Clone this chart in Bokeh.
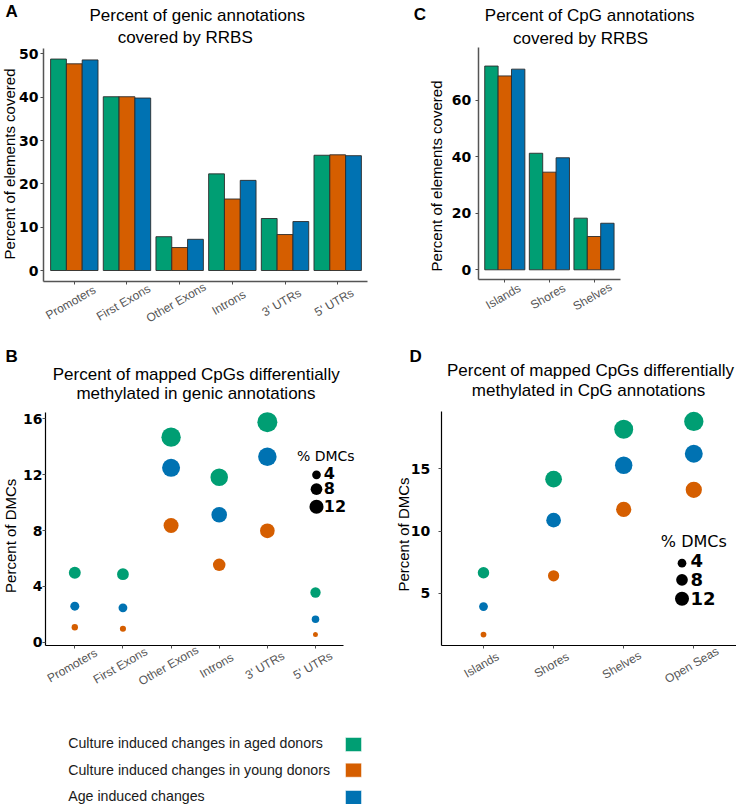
import math
from bokeh.plotting import figure
from bokeh.models import Range1d, FixedTicker, Label
from bokeh.layouts import column, row
from bokeh.embed import file_html
from bokeh.resources import INLINE

# ---------------- data ----------------
series = ["Culture induced changes in aged donors",
          "Culture induced changes in young donors",
          "Age induced changes"]
colors = ["#009E73", "#D55E00", "#0072B2"]

genic_cats = ["Promoters", "First Exons", "Other Exons", "Introns", "3' UTRs", "5' UTRs"]
cpg_cov_cats = ["Islands", "Shores", "Shelves"]
cpg_dmc_cats = ["Islands", "Shores", "Shelves", "Open Seas"]

genic_cov_aged = [48.8, 40.1, 7.8, 22.3, 12.0, 26.6]
genic_cov_young = [47.7, 40.1, 5.3, 16.5, 8.3, 26.7]
genic_cov_age = [48.6, 39.8, 7.2, 20.8, 11.3, 26.5]

cpg_cov_aged = [72.2, 41.3, 18.3]
cpg_cov_young = [68.7, 34.6, 11.8]
cpg_cov_age = [71.1, 39.7, 16.5]

genic_dmc_aged = [4.97, 4.87, 14.69, 11.82, 15.76, 3.56]
genic_dmc_young = [1.07, 0.96, 8.36, 5.54, 7.98, 0.55]
genic_dmc_age = [2.58, 2.46, 12.49, 9.13, 13.28, 1.65]

cpg_dmc_aged = [6.65, 14.18, 18.20, 18.82]
cpg_dmc_young = [1.68, 6.40, 11.74, 13.32]
cpg_dmc_age = [3.93, 10.88, 15.30, 16.22]

size_legend_vals = [4, 8, 12]

genic_yticks = [0, 10, 20, 30, 40, 50]
cpg_cov_yticks = [0, 20, 40, 60]
genic_dmc_yticks = [0, 4, 8, 12, 16]
cpg_dmc_yticks = [5, 10, 15]

SANS = "Liberation Sans"
DJ = "DejaVu Sans"
BASE_K = 0.35  # correction for where the alphabetic baseline lands
TICK_ANGLE = math.radians(30)
SPLIT = 390    # x where the left and right columns meet


class Panel:
    """A figure whose frame fills its canvas; axes are pinned inside with fixed_location."""

    def __init__(self, x0, y0, w, h, cx1, cdx, zero_px, px_per_unit, yticks, ncat,
                 ax_left, ax_right, ax_top, ax_bottom, axis_color, axis_width, standoff):
        self.cx1, self.cdx, self.zero_px, self.ppu = cx1, cdx, zero_px, px_per_unit
        xr = (self.X(x0), self.X(x0 + w))
        yr = (self.Y(y0 + h), self.Y(y0))
        p = figure(width=w, height=h, x_range=Range1d(*xr), y_range=Range1d(*yr),
                   min_border=0, min_border_left=0, min_border_right=0,
                   min_border_top=0, min_border_bottom=0,
                   output_backend="svg", toolbar_location=None, title=None)
        p.outline_line_color = None
        p.xgrid.visible = False
        p.ygrid.visible = False
        p.background_fill_color = "white"
        p.border_fill_color = "white"
        xa, ya = p.xaxis[0], p.yaxis[0]
        ya.ticker = FixedTicker(ticks=yticks)
        xa.ticker = FixedTicker(ticks=list(range(1, ncat + 1)))
        xa.major_label_text_color = None
        ya.fixed_location = self.X(ax_left)
        ya.bounds = (self.Y(ax_bottom), self.Y(ax_top))
        xa.fixed_location = self.Y(ax_bottom)
        xa.bounds = (self.X(ax_left), self.X(ax_right))
        for ax in (xa, ya):
            ax.axis_line_color = axis_color
            ax.axis_line_width = axis_width
            ax.major_tick_line_color = "#4d4d4d"
            ax.major_tick_out = 3
            ax.major_tick_in = 0
            ax.minor_tick_out = 0
            ax.minor_tick_in = 0
        ya.major_label_text_font = DJ
        ya.major_label_text_font_style = "bold"
        ya.major_label_text_font_size = "14px"
        ya.major_label_text_color = "black"
        ya.major_label_standoff = standoff
        self.p = p

    def X(self, px):
        return 1 + (px - self.cx1) / self.cdx

    def Y(self, py):
        return (self.zero_px - py) / self.ppu

    def label(self, px, py, text, size, font=SANS, style="normal", align="left",
              baseline="alphabetic", angle=0.0, color="black", x_data=None, x_offset=0):
        if baseline == "alphabetic":
            if angle == 0:
                py -= BASE_K * size
            else:
                px -= BASE_K * size
        x = self.X(px) if x_data is None else x_data
        self.p.add_layout(Label(x=x, y=self.Y(py), text=text, text_font=font,
                                text_font_size=f"{size}px", text_font_style=style,
                                text_align=align, text_baseline=baseline, angle=angle,
                                text_color=color, x_offset=x_offset))

    def xlabels(self, cats, py, dx):
        for i, c in enumerate(cats):
            self.label(0, py, c, 12, align="center", baseline="middle",
                       angle=TICK_ANGLE, color="#555555", x_data=i + 1, x_offset=dx)


def bars(panel, vals_list):
    offs = [-0.3, 0.0, 0.3]
    for vals, col, off in zip(vals_list, colors, offs):
        panel.p.vbar(x=[i + 1 + off for i in range(len(vals))], top=vals, bottom=0,
                     width=0.3, fill_color=col, line_color="#2b2b2b", line_width=0.9)


def dots(panel, vals_list, size_fn):
    for vals, col in zip(vals_list, colors):
        panel.p.scatter(x=[i + 1 for i in range(len(vals))], y=vals,
                        size=[size_fn(v) for v in vals], marker="circle",
                        fill_color=col, line_color=None)


def legend_size(v):
    return 1.44 + 3.63 * math.sqrt(v)


# ---------------- Panel A ----------------
A = Panel(0, 0, SPLIT, 340, 73.8, 52.68, 270, 4.333, genic_yticks, 6,
          43, 367, 48, 281, "#555555", 1.5, 2)
bars(A, [genic_cov_aged, genic_cov_young, genic_cov_age])
A.label(5, 17.3, "A", 17, style="bold")
A.label(196.7, 20.5, "Percent of genic annotations", 17, align="center")
A.label(184.7, 42.5, "covered by RRBS", 17, align="center")
A.label(14, 163.5, "Percent of elements covered", 15, align="center",
        angle=math.pi / 2)
A.xlabels(genic_cats, 302, -3.5)

# ---------------- Panel C ----------------
C = Panel(SPLIT, 0, 736 - SPLIT, 340, 504.3, 44.6, 269.3, 2.822, cpg_cov_yticks, 3,
          477.7, 620, 46.7, 279.3, "#555555", 1.5, 4)
bars(C, [cpg_cov_aged, cpg_cov_young, cpg_cov_age])
C.label(413.3, 20, "C", 17, style="bold")
C.label(589.2, 21, "Percent of CpG annotations", 17, align="center")
C.label(580, 43.5, "covered by RRBS", 17, align="center")
C.label(441, 175.5, "Percent of elements covered", 15, align="center",
        angle=math.pi / 2)
C.xlabels(cpg_cov_cats, 296, -1.5)

# ---------------- Panel B ----------------
B = Panel(0, 340, SPLIT, 350, 74.3, 48.14, 641.7, 13.96, genic_dmc_yticks, 6,
          45, 343, 411.7, 645, "black", 1.2, 0)
dots(B, [genic_dmc_aged, genic_dmc_young, genic_dmc_age],
     lambda v: 1.55 + 4.65 * math.sqrt(v))
B.label(5, 362.3, "B", 17, style="bold")
B.label(195.7, 379.5, "Percent of mapped CpGs differentially", 17, align="center")
B.label(195.5, 399, "methylated in genic annotations", 17, align="center")
B.label(15, 535.3, "Percent of DMCs", 15, align="center", angle=math.pi / 2)
B.xlabels(genic_cats, 665, -2.6)
B.label(325.3, 460.7, "% DMCs", 14, font=DJ, align="center")
for v, dy, ty in zip(size_legend_vals, [474.3, 488.7, 506.3], [477.7, 492.7, 511.3]):
    B.p.scatter(x=[B.X(316)], y=[B.Y(dy)], size=legend_size(v), marker="circle",
                fill_color="black", line_color=None)
    B.label(323.3, ty, str(v), 16, font=DJ, style="bold")

# ---------------- Panel D ----------------
D = Panel(SPLIT, 340, 736 - SPLIT, 350, 483, 70.1, 654.9, 12.43, cpg_dmc_yticks, 4,
          440.7, 736, 410.7, 645, "black", 1.2, 8)
dots(D, [cpg_dmc_aged, cpg_dmc_young, cpg_dmc_age], lambda v: 4.45 * math.sqrt(v))
D.label(409, 362, "D", 17, style="bold")
D.label(590, 375.5, "Percent of mapped CpGs differentially", 17, align="center")
D.label(588, 395.7, "methylated in CpG annotations", 17, align="center")
D.label(408.3, 534, "Percent of DMCs", 15, align="center", angle=math.pi / 2)
D.xlabels(cpg_dmc_cats, 664.5, -2)
D.label(693.3, 546.7, "% DMCs", 16, font=DJ, align="center")
for v, dy, ty in zip(size_legend_vals, [562.7, 579.3, 598.3], [566.7, 585, 604.3]):
    D.p.scatter(x=[D.X(681.5)], y=[D.Y(dy)], size=legend_size(v), marker="circle",
                fill_color="black", line_color=None)
    D.label(690, ty, str(v), 18, font=DJ, style="bold")

# ---------------- bottom legend ----------------
L = figure(width=736, height=114, x_range=Range1d(0, 736), y_range=Range1d(804, 690),
           x_axis_type=None, y_axis_type=None, output_backend="svg",
           toolbar_location=None, title=None, min_border=0)
L.outline_line_color = None
L.xgrid.visible = False
L.ygrid.visible = False
leg_text_base = [747.3, 774, 800.5]
leg_box_mid = [744, 769.7, 797]
for name, col, tb, bm in zip(series, colors, leg_text_base, leg_box_mid):
    L.add_layout(Label(x=67.7, y=tb - BASE_K * 14.2, text=name, text_font=SANS,
                       text_font_size="14.2px", text_baseline="alphabetic",
                       text_color="#1a1a1a"))
    L.rect(x=[353], y=[bm], width=16, height=14, fill_color=col, line_color="white",
           line_width=0.5)

layout = column(row(A.p, C.p), row(B.p, D.p), L)
open("out.html", "w").write(file_html(layout, INLINE))
